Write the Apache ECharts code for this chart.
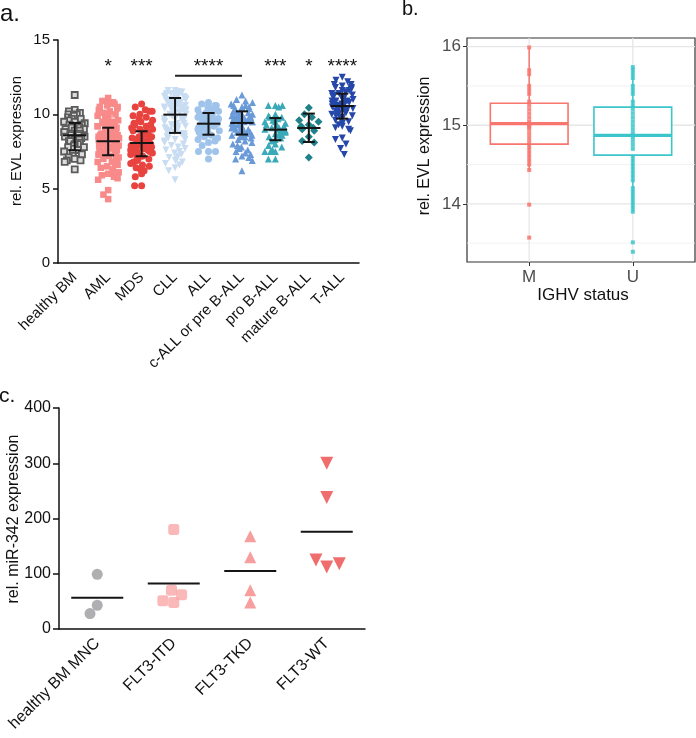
<!DOCTYPE html>
<html><head><meta charset="utf-8">
<script src="https://cdn.jsdelivr.net/npm/echarts@6/dist/echarts.min.js"></script>
<style>html,body{margin:0;padding:0;background:#fff}#c{width:696px;height:738px}</style>
</head><body><div id="c"></div>
<script>
// ---------- Panel a data ----------
const catsA = ['healthy BM','AML','MDS','CLL','ALL','c-ALL or pre B-ALL','pro B-ALL','mature B-ALL','T-ALL'];
const healthyBM = [11.3,10.3,10.2,10.1,10.0,10.0,9.9,9.8,9.7,9.7,9.6,9.5,9.5,9.4,9.3,9.3,9.2,9.1,9.1,9.0,9.0,8.9,8.9,8.8,8.8,8.7,8.7,8.6,8.6,8.5,8.5,8.4,8.4,8.3,8.3,8.2,8.2,8.1,8.0,8.0,7.9,7.8,7.8,7.7,7.6,7.5,7.4,7.3,7.2,7.1,7.0,6.9,6.9,6.8,6.3];
const aml = [11.1,10.9,10.8,10.8,10.7,10.7,10.6,10.5,10.5,10.4,10.3,10.2,10.1,10.0,10.0,9.9,9.8,9.7,9.7,9.6,9.5,9.5,9.4,9.4,9.3,9.3,9.2,9.2,9.1,9.1,9.0,9.0,8.9,8.9,8.9,8.8,8.8,8.7,8.7,8.7,8.6,8.6,8.6,8.5,8.5,8.5,8.4,8.4,8.4,8.3,8.3,8.3,8.2,8.2,8.2,8.1,8.1,8.1,8.0,8.0,8.0,7.9,7.9,7.9,7.8,7.8,7.8,7.7,7.7,7.6,7.6,7.5,7.5,7.4,7.4,7.3,7.3,7.2,7.2,7.1,7.0,7.0,6.9,6.8,6.8,6.7,6.6,6.5,6.4,6.3,6.2,6.1,6.0,5.9,5.8,5.7,5.6,4.9,4.6,4.3];
const mds = [10.7,10.5,10.3,10.2,10.2,10.0,9.9,9.8,9.7,9.6,9.5,9.4,9.3,9.3,9.2,9.1,9.0,9.0,8.9,8.8,8.8,8.7,8.6,8.6,8.5,8.5,8.4,8.4,8.3,8.3,8.2,8.2,8.1,8.1,8.0,8.0,7.9,7.9,7.8,7.8,7.7,7.7,7.6,7.6,7.5,7.5,7.4,7.4,7.3,7.3,7.2,7.2,7.1,7.0,7.0,6.9,6.8,6.7,6.6,6.5,6.4,6.3,6.2,6.0,5.8,5.2,5.2];
const cll = [11.6,11.6,11.5,11.5,11.5,11.4,11.4,11.4,11.3,11.3,11.3,11.2,11.2,11.2,11.1,11.1,11.1,11.0,11.0,11.0,10.9,10.9,10.9,10.8,10.8,10.8,10.7,10.7,10.7,10.6,10.6,10.6,10.5,10.5,10.5,10.4,10.4,10.4,10.3,10.3,10.3,10.2,10.2,10.1,10.1,10.0,10.0,9.9,9.9,9.8,9.8,9.7,9.7,9.6,9.6,9.5,9.5,9.4,9.4,9.3,9.3,9.2,9.2,9.1,9.1,9.0,9.0,8.9,8.9,8.8,8.8,8.7,8.7,8.6,8.5,8.5,8.4,8.3,8.3,8.2,8.1,8.0,7.9,7.8,7.7,7.6,7.5,7.4,7.3,7.2,7.1,7.0,6.9,6.8,6.7,6.6,6.4,6.2,5.6];
const allB = [10.8,10.7,10.6,10.6,10.5,10.4,10.3,10.3,10.2,10.1,10.1,10.0,10.0,9.9,9.9,9.8,9.8,9.7,9.7,9.6,9.6,9.5,9.5,9.4,9.4,9.3,9.3,9.2,9.2,9.1,9.1,9.0,9.0,8.9,8.9,8.8,8.7,8.7,8.6,8.5,8.4,8.3,8.2,8.1,7.9,7.5,7.5,7.5,7.0];
const cAll = [11.3,11.0,10.9,10.8,10.7,10.6,10.6,10.5,10.5,10.4,10.4,10.3,10.3,10.2,10.2,10.1,10.1,10.0,10.0,10.0,9.9,9.9,9.9,9.8,9.8,9.8,9.7,9.7,9.7,9.6,9.6,9.6,9.5,9.5,9.5,9.4,9.4,9.4,9.3,9.3,9.3,9.2,9.2,9.2,9.1,9.1,9.0,9.0,8.9,8.9,8.8,8.8,8.7,8.7,8.6,8.6,8.5,8.5,8.4,8.3,8.2,8.1,8.0,7.9,7.8,7.7,7.6,7.5,7.4,7.3,7.2,7.1,7.0,6.9,6.2];
const proB = [10.6,10.6,10.6,10.5,10.0,9.9,9.8,9.8,9.7,9.6,9.5,9.5,9.4,9.3,9.3,9.2,9.1,9.1,9.0,9.0,8.9,8.9,8.8,8.8,8.7,8.6,8.6,8.5,8.4,8.3,8.2,8.0,7.9,7.8,7.6,7.5,7.5,7.5,7.0,7.0];
const matureB = [10.45,10.0,9.8,9.6,9.5,9.3,9.2,9.1,9.0,8.9,8.5,8.2,8.1,7.1];
const tAll = [12.5,12.3,12.2,12.0,12.0,11.9,11.8,11.8,11.7,11.7,11.6,11.6,11.5,11.5,11.4,11.4,11.3,11.3,11.2,11.2,11.1,11.1,11.0,11.0,11.0,10.9,10.9,10.9,10.8,10.8,10.8,10.7,10.7,10.7,10.6,10.6,10.6,10.5,10.5,10.5,10.4,10.4,10.4,10.3,10.3,10.3,10.2,10.2,10.1,10.1,10.0,10.0,9.9,9.9,9.8,9.8,9.7,9.6,9.5,9.4,9.3,9.2,9.1,9.0,8.9,8.4,8.3,8.0,7.7,7.3];
const meanA = [8.59,8.19,8.07,9.98,9.37,9.42,8.97,9.08,10.56];
const errLowA = [7.58,7.25,7.18,8.75,8.63,8.64,8.26,8.14,9.71];
const errHighA = [9.42,9.10,8.86,11.10,10.09,10.20,9.75,10.05,11.39];
const sigA = ['','*','***','','****','','***','*','****'];
const sigBracket = [3,5];
const yTicksA = [0,5,10,15];

// ---------- Panel b data ----------
const catsB = ['M','U'];
const boxB = [ // [min, Q1, median, Q3, max]
  [14.43,14.76,15.02,15.28,15.99],
  [13.90,14.62,14.87,15.23,15.74]
];
const pointsM = [15.99,15.7,15.65,15.5,15.45,15.4,15.3,15.25,15.2,15.15,15.1,15.05,15.02,15.0,14.98,14.95,14.9,14.85,14.8,14.75,14.7,14.65,14.6,14.55,14.5,14.43,13.99,13.57];
const pointsU = [15.74,15.7,15.65,15.6,15.5,15.45,15.4,15.3,15.25,15.2,15.15,15.1,15.05,15.0,14.95,14.9,14.87,14.85,14.8,14.75,14.7,14.6,14.55,14.5,14.45,14.4,14.35,14.3,14.2,14.15,14.1,14.05,14.0,13.95,13.9,13.51,13.39];
const yTicksB = [14,15,16];
const yMinorB = [13.5,14.5,15.5];

// ---------- Panel c data ----------
const catsC = ['healthy BM MNC','FLT3-ITD','FLT3-TKD','FLT3-WT'];
const healthyMNC = [99,43,28];
const flt3ITD = [180,48,51,62,70];
const flt3TKD = [168,130,70,48];
const flt3WT = [300,238,112,125,118];
const meanC = [56.5,82.5,105,176];

const FONT = 'Liberation Sans, Arial, Helvetica, sans-serif';
const chart = echarts.init(document.getElementById('c'), null, {renderer:'canvas'});

const downTri = 'path://M0,0L10,0L5,8.66Z';
const groupsA = [
  {d:healthyBM, sym:'rect', color:'#dcdcdc', border:'#5b5b5b', bw:1.8, size:6},
  {d:aml, sym:'rect', color:'#f98a8a', size:6.5},
  {d:mds, sym:'circle', color:'#e8433f', size:7},
  {d:cll, sym:downTri, color:'#c8dcf2', size:7},
  {d:allB, sym:'circle', color:'#9fc3ea', size:7},
  {d:cAll, sym:'triangle', color:'#6a9bd8', size:7},
  {d:proB, sym:'triangle', color:'#3aa9b9', size:7},
  {d:matureB, sym:'diamond', color:'#1f8189', size:8},
  {d:tAll, sym:downTri, color:'#2547a9', size:7}
];

const series = [];
groupsA.forEach((g, i) => {
  series.push({
    type:'scatter', xAxisIndex:0, yAxisIndex:0, symbol:g.sym, symbolSize:g.size,
    itemStyle:{color:g.color, borderColor:g.border||g.color, borderWidth:g.bw||0, opacity:1},
    data:g.d.map(v => [i, v]), z:2
  });
});
// error bars a
series.push({
  type:'custom', xAxisIndex:0, yAxisIndex:0, z:5,
  data: meanA.map((m,i) => [i, m, errLowA[i], errHighA[i]]),
  encode:{x:0, y:[1,2,3]},
  renderItem:(p, api) => {
    const x = api.value(0);
    const pm = api.coord([x, api.value(1)]);
    const pl = api.coord([x, api.value(2)]);
    const ph = api.coord([x, api.value(3)]);
    const bw = api.size([1,0])[0];
    const mh = bw*0.35, ch = bw*0.18;
    const st = {stroke:'#151515', lineWidth:2};
    return {type:'group', children:[
      {type:'line', shape:{x1:pm[0], y1:ph[1], x2:pm[0], y2:pl[1]}, style:st},
      {type:'line', shape:{x1:pm[0]-mh, y1:pm[1], x2:pm[0]+mh, y2:pm[1]}, style:st},
      {type:'line', shape:{x1:pm[0]-ch, y1:ph[1], x2:pm[0]+ch, y2:ph[1]}, style:st},
      {type:'line', shape:{x1:pm[0]-ch, y1:pl[1], x2:pm[0]+ch, y2:pl[1]}, style:st}
    ]};
  }
});
// significance stars
series.push({
  type:'custom', xAxisIndex:0, yAxisIndex:0, z:5,
  data: sigA.map((s,i) => [i, 13.2]),
  renderItem:(p, api) => {
    const c = api.coord([api.value(0), api.value(1)]);
    return {type:'text', x:c[0], y:c[1], style:{text:sigA[p.dataIndex], fill:'#111', font:'19px '+FONT, align:'center', verticalAlign:'middle'}};
  }
});
series.push({
  type:'custom', xAxisIndex:0, yAxisIndex:0, z:5,
  data:[[sigBracket[0], sigBracket[1], 12.6]],
  renderItem:(p, api) => {
    const a = api.coord([api.value(0), api.value(2)]);
    const b = api.coord([api.value(1), api.value(2)]);
    return {type:'line', shape:{x1:a[0], y1:a[1], x2:b[0], y2:b[1]}, style:{stroke:'#222', lineWidth:2}};
  }
});

// ---------- panel b series ----------
const colB = ['#f8766d','#3cc6cb'];
series.push({
  type:'custom', xAxisIndex:1, yAxisIndex:1, z:1, silent:true,
  data: yTicksB.map(v => [v, 1]).concat(yMinorB.map(v => [v, 0])),
  renderItem:(p, api) => {
    const a = api.coord([0.4, api.value(0)]);
    const b = api.coord([2.6, api.value(0)]);
    const major = api.value(1) === 1;
    return {type:'line', shape:{x1:a[0], y1:a[1], x2:b[0], y2:b[1]}, style:{stroke: major ? '#e6e6e6' : '#efefef', lineWidth: major ? 1.3 : 0.8}};
  }
});
series.push({
  type:'custom', xAxisIndex:1, yAxisIndex:1, z:1, silent:true,
  data: catsB.map((c,i) => [i+1]),
  renderItem:(p, api) => {
    const a = api.coord([api.value(0), 13.26]);
    const b = api.coord([api.value(0), 16.11]);
    return {type:'line', shape:{x1:a[0], y1:a[1], x2:b[0], y2:b[1]}, style:{stroke:'#e6e6e6', lineWidth:1.3}};
  }
});
series.push({
  type:'custom', xAxisIndex:1, yAxisIndex:1, z:3,
  data: boxB.map((b,i) => [i+1].concat(b)),
  encode:{x:0, y:[1,2,3,4,5]},
  renderItem:(p, api) => {
    const x = api.value(0);
    const col = colB[p.dataIndex];
    const bw = api.size([1,0])[0] * 0.375;
    const pmin = api.coord([x, api.value(1)]);
    const pq1 = api.coord([x, api.value(2)]);
    const pmed = api.coord([x, api.value(3)]);
    const pq3 = api.coord([x, api.value(4)]);
    const pmax = api.coord([x, api.value(5)]);
    return {type:'group', children:[
      {type:'line', shape:{x1:pmin[0], y1:pmin[1], x2:pq1[0], y2:pq1[1]}, style:{stroke:col, lineWidth:1.5}},
      {type:'line', shape:{x1:pq3[0], y1:pq3[1], x2:pmax[0], y2:pmax[1]}, style:{stroke:col, lineWidth:1.5}},
      {type:'rect', shape:{x:pq3[0]-bw, y:pq3[1], width:2*bw, height:pq1[1]-pq3[1]}, style:{fill:'rgba(255,255,255,0.9)', stroke:col, lineWidth:1.6}},
      {type:'line', shape:{x1:pmed[0]-bw, y1:pmed[1], x2:pmed[0]+bw, y2:pmed[1]}, style:{stroke:col, lineWidth:3.2}}
    ]};
  }
});
[pointsM, pointsU].forEach((pts, i) => {
  series.push({
    type:'scatter', xAxisIndex:1, yAxisIndex:1, z:4, symbol:'rect', symbolSize:[4,4],
    itemStyle:{color:colB[i], opacity:0.85},
    data: pts.map(v => [i+1, v])
  });
});

// ---------- panel c ----------
const groupsC = [
  {d:healthyMNC, sym:'circle', color:'#9b9b9f', size:11},
  {d:flt3ITD, sym:'roundRect', color:'#f9a6a8', size:11},
  {d:flt3TKD, sym:'triangle', color:'#f58686', size:12},
  {d:flt3WT, sym:downTri, color:'#ec4848', size:13}
];
groupsC.forEach((g,i) => {
  series.push({
    type:'scatter', xAxisIndex:2, yAxisIndex:2, symbol:g.sym, symbolSize:g.size, z:2,
    itemStyle:{color:g.color}, data:g.d.map(v => [i, v])
  });
});
series.push({
  type:'custom', xAxisIndex:2, yAxisIndex:2, z:4,
  data: meanC.map((m,i) => [i, m]),
  renderItem:(p, api) => {
    const c = api.coord([api.value(0), api.value(1)]);
    const h = api.size([1,0])[0]*0.34;
    return {type:'line', shape:{x1:c[0]-h, y1:c[1], x2:c[0]+h, y2:c[1]}, style:{stroke:'#151515', lineWidth:2}};
  }
});

const blackAxis = {lineStyle:{color:'#111', width:1.5}};
chart.setOption({
  animation:false,
  textStyle:{fontFamily:FONT},
  grid:[
    {left:58, top:40, width:301, height:223},
    {left:467, top:38, width:228, height:224, show:true, borderColor:'#333', borderWidth:1.2, backgroundColor:'transparent'},
    {left:59, top:408, width:306, height:221}
  ],
  xAxis:[
    {gridIndex:0, type:'category', data:catsA, jitter:22, jitterOverlap:false, jitterMargin:0,
     axisLine:blackAxis, axisTick:{alignWithLabel:true, length:5, lineStyle:{color:'#111', width:1.5}},
     axisLabel:{rotate:45, fontSize:15, color:'#111', margin:12, interval:0}},
    {gridIndex:1, type:'value', min:0.4, max:2.6, splitLine:{show:false}, axisLine:{show:false},
     axisTick:{customValues:[1,2], length:4, lineStyle:{color:'#333'}},
     axisLabel:{customValues:[1,2], formatter:v => catsB[Math.round(v)-1] || '', fontSize:17, color:'#4d4d4d', margin:7}},
    {gridIndex:2, type:'category', data:catsC, jitter:56, jitterOverlap:false, jitterMargin:0,
     axisLine:blackAxis, axisTick:{alignWithLabel:true, length:6, lineStyle:{color:'#111', width:1.5}},
     axisLabel:{rotate:45, fontSize:16, color:'#111', margin:12, interval:0}}
  ],
  yAxis:[
    {gridIndex:0, type:'value', min:0, max:15, interval:5, splitLine:{show:false},
     axisLine:{show:true, lineStyle:{color:'#111', width:1.5}}, axisTick:{show:true, length:5, lineStyle:{color:'#111', width:1.5}},
     axisLabel:{fontSize:15, color:'#111', margin:8}},
    {gridIndex:1, type:'value', min:13.26, max:16.11, splitLine:{show:false}, axisLine:{show:false},
     axisTick:{show:true, customValues:yTicksB, length:4, lineStyle:{color:'#333'}},
     axisLabel:{customValues:yTicksB, fontSize:17, color:'#4d4d4d', margin:6}},
    {gridIndex:2, type:'value', min:0, max:400, interval:100, splitLine:{show:false},
     axisLine:{show:true, lineStyle:{color:'#111', width:1.5}}, axisTick:{show:true, length:6, lineStyle:{color:'#111', width:1.5}},
     axisLabel:{fontSize:16, color:'#111', margin:8}}
  ],
  graphic:[
    {type:'text', left:0, top:2, style:{text:'a.', font:'24px '+FONT, fill:'#111'}},
    {type:'text', left:402, top:-1, style:{text:'b.', font:'20px '+FONT, fill:'#111'}},
    {type:'text', left:-1, top:386, style:{text:'c.', font:'21px '+FONT, fill:'#111'}},
    {type:'text', x:17, y:141, rotation:Math.PI/2, style:{text:'rel. EVL expression', font:'15px '+FONT, fill:'#111', align:'center', verticalAlign:'middle'}},
    {type:'text', x:425, y:146, rotation:Math.PI/2, style:{text:'rel. EVL expression', font:'16px '+FONT, fill:'#111', align:'center', verticalAlign:'middle'}},
    {type:'text', x:583, y:295, style:{text:'IGHV status', font:'17px '+FONT, fill:'#111', align:'center', verticalAlign:'middle'}},
    {type:'text', x:14, y:519, rotation:Math.PI/2, style:{text:'rel. miR-342 expression', font:'16px '+FONT, fill:'#111', align:'center', verticalAlign:'middle'}}
  ],
  series:series
});
</script></body></html>
